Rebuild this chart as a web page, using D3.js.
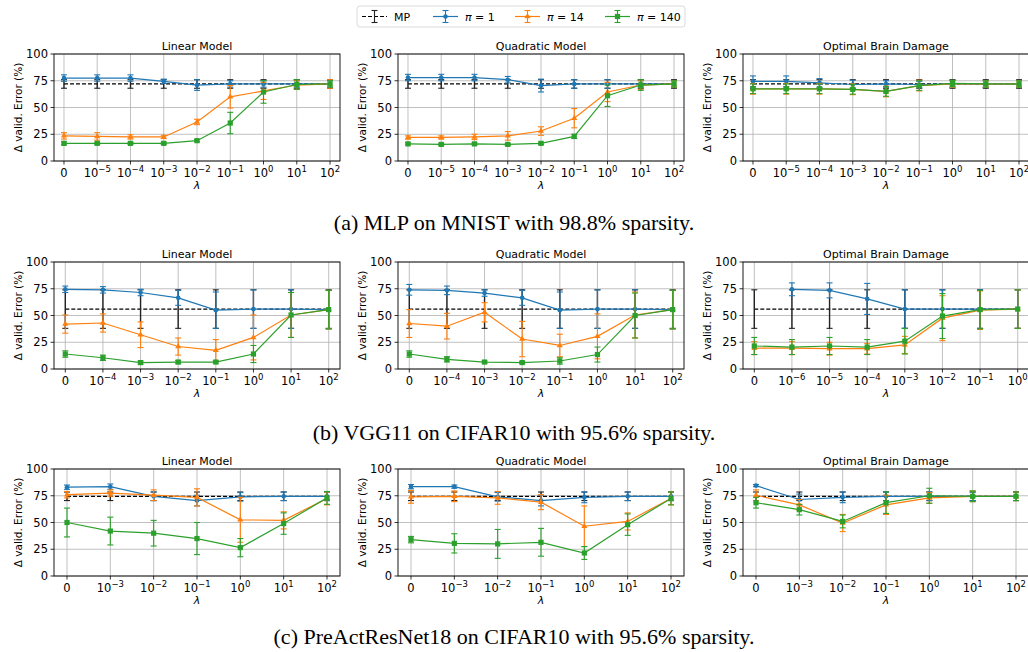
<!DOCTYPE html>
<html>
<head>
<meta charset="utf-8">
<script src="https://cdn.jsdelivr.net/npm/d3@7"></script>
<style>
  body { margin: 0; background: #fff; }
  svg text { font-family: "DejaVu Sans", sans-serif; }
</style>
</head>
<body>
<div id="chart"></div>
<script>
// lambda tick labels (exponent, "0" means plain zero)
const lamMlp = ["0", "-5", "-4", "-3", "-2", "-1", "0e", "1", "2"];
const lamVgg = ["0", "-4", "-3", "-2", "-1", "0e", "1", "2"];
const lamVggObd = ["0", "-6", "-5", "-4", "-3", "-2", "-1", "0e"];
const lamRes = ["0", "-3", "-2", "-1", "0e", "1", "2"];

const yTicks = [0, 25, 50, 75, 100];
const titles = ["Linear Model", "Quadratic Model", "Optimal Brain Damage"];
const captions = [
  "(a) MLP on MNIST with 98.8% sparsity.",
  "(b) VGG11 on CIFAR10 with 95.6% sparsity.",
  "(c) PreActResNet18 on CIFAR10 with 95.6% sparsity."
];

// magnitude pruning baseline per row
const mpMean = [72, 56, 74.5];
const mpErr = [4, 18, 4];

// (a) MLP on MNIST
const mlpLinPi1 = [77.5, 77.5, 77.5, 74.5, 71, 72, 72, 72, 72];
const mlpLinPi1Err = [3, 3, 3, 2, 5, 3, 3, 3, 3];
const mlpLinPi14 = [23.5, 23, 22.5, 22.5, 36.5, 60, 65.5, 71, 72];
const mlpLinPi14Err = [3, 3.5, 2, 1.5, 2.5, 10.5, 8, 4, 4];
const mlpLinPi140 = [16.5, 16.5, 16.5, 16.5, 19, 35.5, 64.5, 71.5, 72];
const mlpLinPi140Err = [1.5, 1, 1, 1, 1, 10, 10.5, 4.5, 3];

const mlpQuadPi1 = [78, 78, 78, 76, 70.5, 72, 72, 72, 72];
const mlpQuadPi1Err = [3, 3, 3, 3, 6, 4, 4, 3, 3];
const mlpQuadPi14 = [22, 22, 22.5, 23.5, 28, 40, 64.5, 71, 72];
const mlpQuadPi14Err = [1.5, 1.5, 2.5, 4, 4, 9, 9, 4, 3];
const mlpQuadPi140 = [16, 15.5, 16, 15.5, 16.5, 23, 61, 71, 72];
const mlpQuadPi140Err = [1, 1, 1, 1, 1, 2, 10, 5, 3];

const mlpObdPi1 = [74.5, 74.5, 73, 71.5, 72, 71.5, 72, 72, 72];
const mlpObdPi1Err = [5, 5, 4, 4, 3, 3, 3, 3, 3];
const mlpObdPi14 = [67.5, 67.5, 67.5, 67, 65, 70.5, 72, 72, 72];
const mlpObdPi14Err = [5, 5, 5, 5, 5, 5, 3, 3, 3];
const mlpObdPi140 = [67.5, 67.5, 67.5, 67, 65, 70.5, 72.5, 72, 72];
const mlpObdPi140Err = [4.5, 4.5, 4.5, 4.5, 4.5, 4.5, 3, 3, 3];

// (b) VGG11 on CIFAR10
const vggLinPi1 = [74.5, 74, 71.5, 66.5, 55, 56, 56, 55.5];
const vggLinPi1Err = [3, 3, 3, 7, 17, 18, 18, 18];
const vggLinPi14 = [42, 43, 32, 21, 17.5, 29.5, 50.5, 55.5];
const vggLinPi14Err = [8.5, 8.5, 12, 8, 10, 21, 21, 18];
const vggLinPi140 = [14, 10.5, 6, 6.5, 6.5, 14, 50.5, 55.5];
const vggLinPi140Err = [3, 2.5, 1.5, 1.5, 1, 8, 21, 18];

const vggQuadPi1 = [74, 73.5, 71, 66.5, 55, 56, 56, 55.5];
const vggQuadPi1Err = [5, 4, 3, 7, 17, 18, 18, 18];
const vggQuadPi14 = [42.5, 40, 53, 28, 22, 30.5, 50.5, 55.5];
const vggQuadPi14Err = [13, 12, 9, 16.5, 10.5, 21, 21.5, 18];
const vggQuadPi140 = [14, 9, 6.5, 6, 7.5, 13.5, 50, 55.5];
const vggQuadPi140Err = [3, 2.5, 1, 1, 3, 7, 21, 18];

const vggObdPi1 = [null, 74.5, 73.5, 65.5, 56, 56, 56, 56];
const vggObdPi1Err = [0, 6, 7, 14.5, 18, 18, 18, 18];
const vggObdPi14 = [19.5, 19.5, 19, 19, 22.5, 47.5, 55, 56];
const vggObdPi14Err = [6, 6, 6, 5, 8, 21, 18, 18];
const vggObdPi140 = [21.5, 20.5, 21.5, 20.5, 26, 49.5, 55.5, 56];
const vggObdPi140Err = [8, 7, 8, 7, 12, 21, 18, 18];

// (c) PreActResNet18 on CIFAR10
const resLinPi1 = [83, 83.5, 74.5, 70.5, 74, 74.5, 74.5];
const resLinPi1Err = [2, 2.5, 4, 5, 4, 4, 4];
const resLinPi14 = [76, 77.5, 75.5, 73.5, 52.5, 52, 72.5];
const resLinPi14Err = [3, 3, 5, 8, 21, 8, 6];
const resLinPi140 = [50, 42, 40, 35, 26.5, 49, 73];
const resLinPi140Err = [13.5, 13, 12, 15, 8.5, 10, 6];

const resQuadPi1 = [83.5, 83.5, 74, 70.5, 73.5, 74.5, 74.5];
const resQuadPi1Err = [2, 1.5, 4, 5, 5, 4, 4];
const resQuadPi14 = [74, 74.5, 73, 69, 46.5, 51, 72.5];
const resQuadPi14Err = [6, 5, 6, 7, 19, 8, 6];
const resQuadPi140 = [34, 30.5, 30, 31.5, 21.5, 48, 72.5];
const resQuadPi140Err = [3, 9, 13.5, 13, 6, 10, 6];

const resObdPi1 = [84.5, 71.5, 73.5, 74.5, 74.5, 74.5, 74.5];
const resObdPi1Err = [1, 5, 5, 4, 4, 4, 4];
const resObdPi14 = [75.5, 66.5, 49.5, 66.5, 73, 74.5, 74.5];
const resObdPi14Err = [5, 5, 8, 9, 5, 5, 4];
const resObdPi140 = [68.5, 62, 51, 68.5, 75, 74.5, 74.5];
const resObdPi140Err = [5, 5, 6, 10, 7, 5, 4];

const colors = { mp: "#000000", pi1: "#1f77b4", pi14: "#ff7f0e", pi140: "#2ca02c" };

const panelRows = [
  [[lamMlp, mlpLinPi1, mlpLinPi1Err, mlpLinPi14, mlpLinPi14Err, mlpLinPi140, mlpLinPi140Err],
   [lamMlp, mlpQuadPi1, mlpQuadPi1Err, mlpQuadPi14, mlpQuadPi14Err, mlpQuadPi140, mlpQuadPi140Err],
   [lamMlp, mlpObdPi1, mlpObdPi1Err, mlpObdPi14, mlpObdPi14Err, mlpObdPi140, mlpObdPi140Err]],
  [[lamVgg, vggLinPi1, vggLinPi1Err, vggLinPi14, vggLinPi14Err, vggLinPi140, vggLinPi140Err],
   [lamVgg, vggQuadPi1, vggQuadPi1Err, vggQuadPi14, vggQuadPi14Err, vggQuadPi140, vggQuadPi140Err],
   [lamVggObd, vggObdPi1, vggObdPi1Err, vggObdPi14, vggObdPi14Err, vggObdPi140, vggObdPi140Err]],
  [[lamRes, resLinPi1, resLinPi1Err, resLinPi14, resLinPi14Err, resLinPi140, resLinPi140Err],
   [lamRes, resQuadPi1, resQuadPi1Err, resQuadPi14, resQuadPi14Err, resQuadPi140, resQuadPi140Err],
   [lamRes, resObdPi1, resObdPi1Err, resObdPi14, resObdPi14Err, resObdPi140, resObdPi140Err]]
];

// layout
const W = 1028, H = 652;
const colX = [54, 398, 743];
const panelW = 286;
const rowTop = [54, 262, 469];
const panelH = 107;
const captionY = [230, 440, 644];

const svg = d3.select("#chart").append("svg")
  .attr("width", W).attr("height", H);

function tickLabel(sel, d) {
  if (d === "0") { sel.text("0"); return; }
  const exp = d.replace("e", "").replace("-", "\u2212");
  sel.append("tspan").text("10");
  sel.append("tspan").attr("dy", -5).attr("font-size", 8.5).text(exp);
}

function marker(g, color, kind, cx, cy) {
  if (kind === "square") {
    g.append("rect").attr("x", cx - 2.6).attr("y", cy - 2.6)
      .attr("width", 5.2).attr("height", 5.2).attr("fill", color);
  } else if (kind === "tri") {
    g.append("path").attr("d", d3.symbol(d3.symbolTriangle, 16)())
      .attr("transform", `translate(${cx},${cy})`).attr("fill", color);
  } else {
    g.append("circle").attr("cx", cx).attr("cy", cy).attr("r", 2.3).attr("fill", color);
  }
}

function errBar(g, color, cx, yLo, yHi, width) {
  g.append("line").attr("x1", cx).attr("x2", cx).attr("y1", yLo).attr("y2", yHi)
    .attr("stroke", color).attr("stroke-width", width || 1.1);
  [yLo, yHi].forEach(yy => g.append("line")
    .attr("x1", cx - 3).attr("x2", cx + 3).attr("y1", yy).attr("y2", yy)
    .attr("stroke", color).attr("stroke-width", 1.1));
}

function drawPanel(r, c, p) {
  const cats = p[0];
  const x0 = colX[c], y0 = rowTop[r];
  const g = svg.append("g");
  const x = d3.scalePoint().domain(cats.map((d, i) => i)).range([x0, x0 + panelW]).padding(0.3);
  const y = d3.scaleLinear().domain([0, 100]).range([y0 + panelH, y0]);
  const idx = cats.map((d, i) => i);

  // grid
  g.selectAll(".gx").data(idx).join("line")
    .attr("x1", d => x(d)).attr("x2", d => x(d))
    .attr("y1", y0).attr("y2", y0 + panelH)
    .attr("stroke", "#b0b0b0").attr("stroke-width", 0.8);
  g.selectAll(".gy").data(yTicks).join("line")
    .attr("x1", x0).attr("x2", x0 + panelW)
    .attr("y1", d => y(d)).attr("y2", d => y(d))
    .attr("stroke", "#b0b0b0").attr("stroke-width", 0.8);

  // MP baseline
  const mp = idx.map(() => mpMean[r]);
  g.append("path").datum(mp)
    .attr("d", d3.line().x((d, i) => x(i)).y(d => y(d)))
    .attr("fill", "none").attr("stroke", colors.mp).attr("stroke-width", 1.2)
    .attr("stroke-dasharray", "4,2");
  mp.forEach((v, i) => errBar(g, "#222", x(i), y(v - mpErr[r]), y(v + mpErr[r]), 1.4));

  const series = [
    { v: p[1], e: p[2], color: colors.pi1, kind: "circle" },
    { v: p[3], e: p[4], color: colors.pi14, kind: "tri" },
    { v: p[5], e: p[6], color: colors.pi140, kind: "square" }
  ];
  series.forEach(s => {
    g.append("path").datum(s.v)
      .attr("d", d3.line().defined(d => d !== null).x((d, i) => x(i)).y(d => y(d)))
      .attr("fill", "none").attr("stroke", s.color).attr("stroke-width", 1.2);
    s.v.forEach((v, i) => {
      if (v === null) return;
      errBar(g, s.color, x(i), y(v - s.e[i]), y(v + s.e[i]));
      marker(g, s.color, s.kind, x(i), y(v));
    });
  });

  // frame
  g.append("rect").attr("x", x0).attr("y", y0).attr("width", panelW).attr("height", panelH)
    .attr("fill", "none").attr("stroke", "#000").attr("stroke-width", 0.9);

  // y axis ticks
  yTicks.forEach(t => {
    g.append("line").attr("x1", x0 - 3.5).attr("x2", x0).attr("y1", y(t)).attr("y2", y(t))
      .attr("stroke", "#000").attr("stroke-width", 0.8);
    g.append("text").attr("x", x0 - 6).attr("y", y(t) + 4)
      .attr("text-anchor", "end").attr("font-size", 11.5).text(t);
  });
  // x axis ticks
  idx.forEach(i => {
    g.append("line").attr("x1", x(i)).attr("x2", x(i))
      .attr("y1", y0 + panelH).attr("y2", y0 + panelH + 3.5)
      .attr("stroke", "#000").attr("stroke-width", 0.8);
    g.append("text").attr("x", x(i)).attr("y", y0 + panelH + 16)
      .attr("text-anchor", "middle").attr("font-size", 11.5)
      .call(tickLabel, cats[i]);
  });

  g.append("text").attr("x", x0 + panelW / 2).attr("y", y0 + panelH + 28)
    .attr("text-anchor", "middle").attr("font-size", 11).attr("font-style", "italic").text("\u03bb");
  g.append("text").attr("x", x0 + panelW / 2).attr("y", y0 - 4)
    .attr("text-anchor", "middle").attr("font-size", 11).text(titles[c]);
  g.append("text")
    .attr("transform", `translate(${x0 - 32},${y0 + panelH / 2}) rotate(-90)`)
    .attr("text-anchor", "middle").attr("font-size", 10.5).text("\u0394 valid. Error (%)");
}

panelRows.forEach((row, r) => row.forEach((p, c) => drawPanel(r, c, p)));

captions.forEach((t, r) => {
  svg.append("text").attr("x", 514).attr("y", captionY[r])
    .attr("text-anchor", "middle").attr("font-size", 22)
    .style("font-family", "'Liberation Serif', 'Times New Roman', serif").text(t);
});

// legend
const lg = svg.append("g");
lg.append("rect").attr("x", 357).attr("y", 6).attr("width", 328).attr("height", 21)
  .attr("rx", 3).attr("fill", "#fff").attr("stroke", "#d0d0d0").attr("stroke-width", 0.8);
const legendItems = [
  { key: "mp", label: "MP", x: 362, kind: null },
  { key: "pi1", label: "1", x: 433, kind: "circle" },
  { key: "pi14", label: "14", x: 515, kind: "tri" },
  { key: "pi140", label: "140", x: 605, kind: "square" }
];
legendItems.forEach(it => {
  const cy = 16.5, cx = it.x + 12.5;
  lg.append("line").attr("x1", it.x).attr("x2", it.x + 25).attr("y1", cy).attr("y2", cy)
    .attr("stroke", colors[it.key]).attr("stroke-width", 1.2)
    .attr("stroke-dasharray", it.key === "mp" ? "4,2" : null);
  errBar(lg, it.key === "mp" ? "#222" : colors[it.key], cx, cy + 6, cy - 6);
  if (it.kind) marker(lg, colors[it.key], it.kind, cx, cy);
  const t = lg.append("text").attr("x", it.x + 32).attr("y", cy + 4).attr("font-size", 11);
  if (it.key === "mp") t.text("MP");
  else {
    t.append("tspan").attr("font-style", "italic").text("\u03c0");
    t.append("tspan").text(" = " + it.label);
  }
});
</script>
</body>
</html>
